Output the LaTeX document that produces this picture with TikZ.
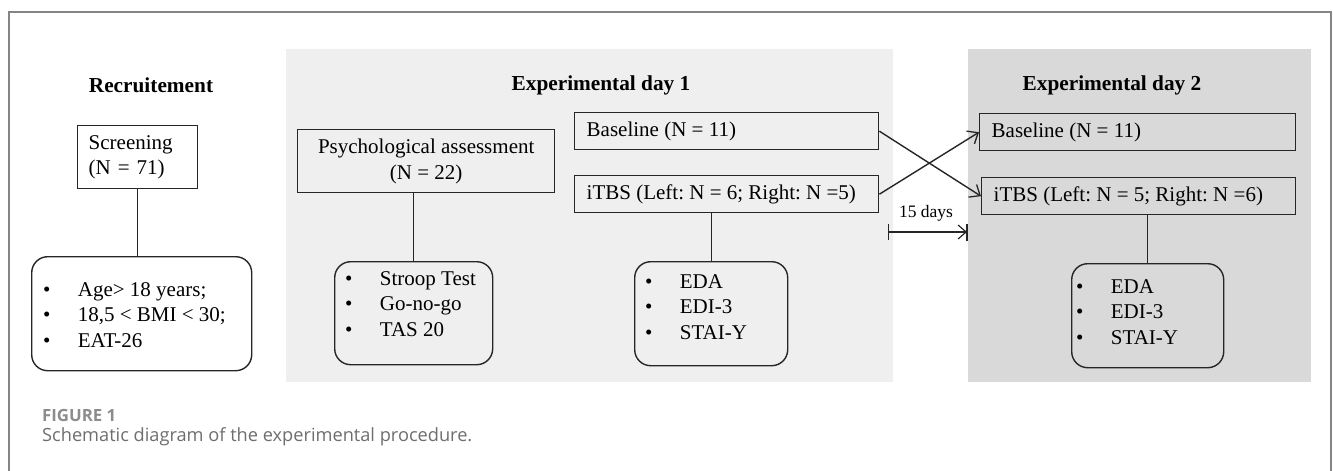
\documentclass[tikz,border=0pt]{standalone}
\usepackage{fontspec}
\setmainfont{Liberation Serif}
\newfontfamily\capfont{Open Sans}
\usetikzlibrary{arrows.meta}
\definecolor{dayone}{HTML}{EFEFEF}
\definecolor{daytwo}{HTML}{D9D9D9}
\definecolor{framegray}{HTML}{858585}
\definecolor{capgray}{HTML}{6E6E6E}
\definecolor{figgray}{HTML}{8C8C8C}
\definecolor{ink}{HTML}{262626}
\newcommand\bul{\makebox[34.7pt][l]{•}}
\begin{document}
\frenchspacing
\begin{tikzpicture}[x=1pt,y=-1pt,
  every node/.style={font=\fontsize{21}{25.5}\selectfont, text=black},
  title/.style={font=\fontsize{21.3}{24}\selectfont\bfseries, inner sep=0pt},
  box/.style={draw=ink, line width=1.4pt, anchor=north west, inner ysep=0pt},
  lbox/.style={box, inner xsep=12pt},
  listbox/.style={draw=ink, line width=1.4pt, rounded corners=16pt, anchor=north west, inner sep=0pt},
  listtext/.style={anchor=west, inner sep=0pt, align=left},
  conn/.style={draw=ink, line width=1.4pt},
  tip/.style={-{Straight Barb[length=9pt,width=15pt,line width=1.3pt]}}
]
\useasboundingbox (0,0) rectangle (1333,471);
\fill[white] (0,0) rectangle (1333,471);
% background panels
\fill[dayone] (286,49) rectangle (893,382);
\fill[daytwo] (968,49) rectangle (1311,382);
% frame
\draw[framegray, line width=1.5pt] (9,471) -- (9,12) -- (1331,12) -- (1331,471);

% titles
\node[title] (t0) at (151,85) {Recruitement};
\node[title] (t1) at (601,85) {Experimental day 1};
\node[title] (t2) at (1112,85) {Experimental day 2};

% recruitment
\node[box, align=left, inner xsep=11pt, text width=98pt, minimum height=63pt] (screen) at (77,125) {Screening\\(N = 71)};
\node[listbox, minimum width=220pt, minimum height=114pt] (crit) at (31,256) {};
\node[listtext] (critt) at (43,315) {\bul Age> 18 years;\\\bul 18,5 < BMI < 30;\\\bul EAT-26};

% day 1
\node[box, align=center, minimum width=257pt, minimum height=63pt] (psych) at (297,129) {Psychological assessment\\(N = 22)};
\node[listbox, minimum width=158pt, minimum height=103pt] (tests) at (334,261) {};
\node[listtext] (testst) at (345,304) {\bul Stroop Test\\\bul Go-no-go\\\bul TAS 20};

\node[lbox, minimum height=37pt] (base1) at (574,112) {\makebox[280pt][l]{Baseline (N = 11)}};
\node[lbox, minimum height=37pt] (itbs1) at (574,175) {\makebox[280pt][l]{iTBS (Left: N = 6; Right: N =5)}};
\node[listbox, minimum width=153pt, minimum height=104pt] (meas1) at (634,261) {};
\node[listtext] (meas1t) at (645,307) {\bul EDA\\\bul EDI-3\\\bul STAI-Y};

% day 2
\node[lbox, minimum height=37pt] (base2) at (979,113) {\makebox[292pt][l]{Baseline (N = 11)}};
\node[lbox, minimum height=37pt] (itbs2) at (981,177) {\makebox[290pt][l]{iTBS (Left: N = 5; Right: N =6)}};
\node[listbox, minimum width=152pt, minimum height=104pt] (meas2) at (1071,263) {};
\node[listtext] (meas2t) at (1076,312) {\bul EDA\\\bul EDI-3\\\bul STAI-Y};

% connectors
\draw[conn] (screen.south) -- (screen.south |- crit.north);
\draw[conn] (psych.south -| tests.north) -- (tests.north);
\draw[conn] (itbs1.south -| meas1.north) -- (meas1.north);
\draw[conn] (itbs2.south -| meas2.north) -- (meas2.north);
\draw[conn, tip] (base1.east) -- (itbs2.west);
\draw[conn, tip] (itbs1.east) -- (base2.west);

% 15 days
\coordinate (g1) at (888,232);
\coordinate (g2) at (967,232);
\coordinate (g2t) at (967,224);
\coordinate (g2b) at (967,241);
\draw[conn, line width=1.2pt, {Bar[width=16pt,line width=1.2pt]}-{Straight Barb[length=8pt,width=14pt,line width=1.2pt]}] (g1) -- (g2);
\draw[conn, line width=1.2pt] (g2t) -- (g2b);
\node[font=\fontsize{17.5}{20}\selectfont] (days) at (926,213) {15 days};

% caption
\node[anchor=west, inner sep=0pt, font=\capfont\bfseries\fontsize{16.8}{19}\selectfont, text=figgray] (fig) at (42,415) {FIGURE 1};
\node[anchor=west, inner sep=0pt, font=\capfont\fontsize{18.2}{22}\selectfont, text=capgray] (cap) at (42,437) {Schematic diagram of the experimental procedure.};
\end{tikzpicture}
\end{document}
